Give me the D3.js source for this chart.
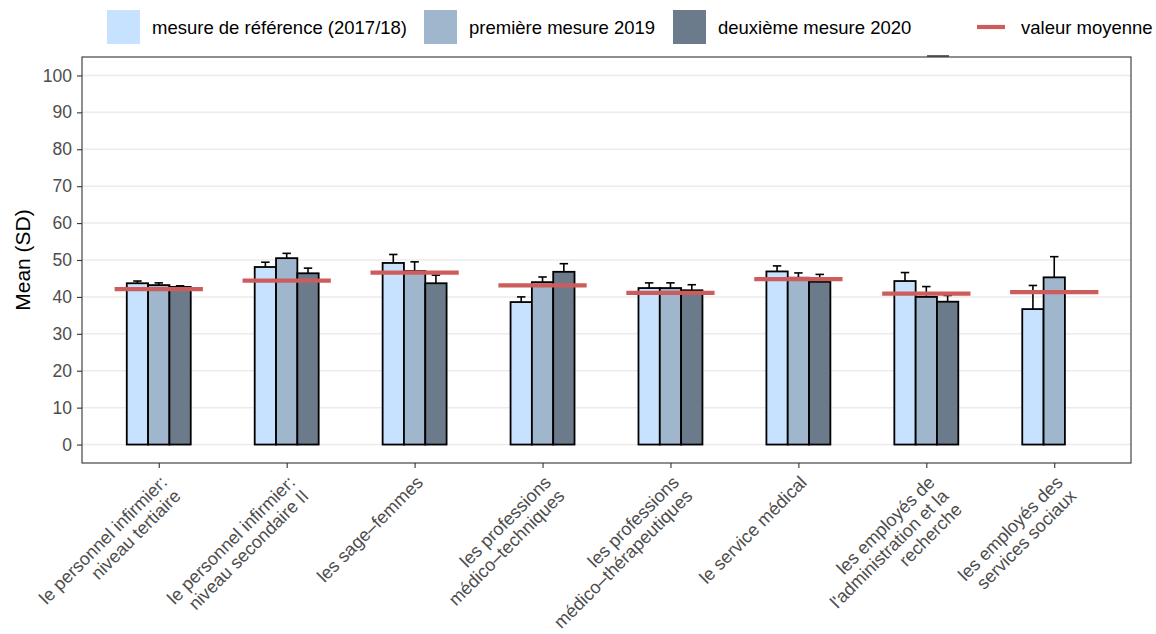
<!DOCTYPE html>
<html>
<head>
<meta charset="utf-8">
<script src="https://cdn.jsdelivr.net/npm/d3@7"></script>
<style>
  body { margin: 0; background: #fff; }
  text { font-family: "Liberation Sans", Arial, sans-serif; }
</style>
</head>
<body>
<div id="chart"></div>
<script>
// categories (line breaks as in the picture)
let categories = [
  "le personnel infirmier:\nniveau tertiaire",
  "le personnel infirmier:\nniveau secondaire II",
  "les sage–femmes",
  "les professions\nmédico–techniques",
  "les professions\nmédico–thérapeutiques",
  "le service médical",
  "les employés de\nl'administration et la\nrecherche",
  "les employés des\nservices sociaux"
]

let seriesNames = ["mesure de référence (2017/18)", "première mesure 2019", "deuxième mesure 2020"]

// means and SDs per measurement
let ref2017 = [43.7, 48.1, 49.2, 38.6, 42.4, 46.9, 44.3, 36.7]
let sd2017  = [0.6, 1.3, 2.3, 1.4, 1.4, 1.5, 2.3, 6.4]
let m2019   = [43.2, 50.5, 47.0, 44.0, 42.4, 45.2, 40.0, 45.3]
let sd2019  = [0.6, 1.3, 2.5, 1.4, 1.4, 1.3, 2.8, 5.6]
let m2020   = [42.7, 46.4, 43.7, 46.8, 41.8, 44.1, 38.7, null]
let sd2020  = [0.3, 1.4, 2.2, 2.2, 1.5, 2.0, 1.7, null]

// overall mean per group
let meanValues = [42.1, 44.4, 46.6, 43.1, 41.1, 44.8, 40.9, 41.3]

let yTicks = [0, 10, 20, 30, 40, 50, 60, 70, 80, 90, 100]

let colors = ["#c6e2ff", "#9fb6cd", "#6c7b8b"]
let meanColor = "#cd5c5c"

// build rows for the join
let allMeans = [ref2017, m2019, m2020]
let allSds = [sd2017, sd2019, sd2020]
let rows = []
categories.forEach(function(c, i) {
  seriesNames.forEach(function(s, j) {
    if (allMeans[j][i] != null) {
      rows.push({cat: c, series: s, value: allMeans[j][i], sd: allSds[j][i]})
    }
  })
})

let W = 1156, H = 634
let svg = d3.select("#chart").append("svg")
  .attr("width", W)
  .attr("height", H)

let pLeft = 82, pRight = 1131, pTop = 57, pBottom = 463

let x = d3.scalePoint().domain(categories).range([pLeft, pRight]).padding(0.6)
let step = x.step()
let x1 = d3.scaleBand().domain(seriesNames).range([-step * 0.25, step * 0.25])
let y = d3.scaleLinear().domain([-5, 105]).range([pBottom, pTop])

// grid
svg.append("g").selectAll("line")
  .data(yTicks)
  .enter().append("line")
  .attr("x1", pLeft).attr("x2", pRight)
  .attr("y1", d => y(d)).attr("y2", d => y(d))
  .style("stroke", "#ebebeb")
  .style("stroke-width", 1.5)

// error bars (upper part shows above the bars)
let capHalf = step * 0.033
let eb = svg.append("g").selectAll("g")
  .data(rows)
  .enter().append("g")
eb.append("line")
  .attr("x1", d => x(d.cat) + x1(d.series) + x1.bandwidth() / 2)
  .attr("x2", d => x(d.cat) + x1(d.series) + x1.bandwidth() / 2)
  .attr("y1", d => y(d.value - d.sd))
  .attr("y2", d => y(d.value + d.sd))
  .style("stroke", "#000").style("stroke-width", 1.6)
eb.append("line")
  .attr("x1", d => x(d.cat) + x1(d.series) + x1.bandwidth() / 2 - capHalf)
  .attr("x2", d => x(d.cat) + x1(d.series) + x1.bandwidth() / 2 + capHalf)
  .attr("y1", d => y(d.value + d.sd))
  .attr("y2", d => y(d.value + d.sd))
  .style("stroke", "#000").style("stroke-width", 1.6)

// bars
svg.append("g").selectAll("rect")
  .data(rows)
  .enter().append("rect")
  .attr("x", d => x(d.cat) + x1(d.series))
  .attr("width", x1.bandwidth())
  .attr("y", d => y(d.value))
  .attr("height", d => y(0) - y(d.value))
  .style("fill", d => colors[seriesNames.indexOf(d.series)])
  .style("stroke", "#000")
  .style("stroke-width", 1.8)

// mean lines
svg.append("g").selectAll("line")
  .data(meanValues)
  .enter().append("line")
  .attr("x1", (d, i) => x(categories[i]) - step * 0.345)
  .attr("x2", (d, i) => x(categories[i]) + step * 0.345)
  .attr("y1", d => y(d)).attr("y2", d => y(d))
  .style("stroke", meanColor)
  .style("stroke-width", 4.2)

// panel border
svg.append("rect")
  .attr("x", pLeft).attr("y", pTop)
  .attr("width", pRight - pLeft).attr("height", pBottom - pTop)
  .style("fill", "none").style("stroke", "#333").style("stroke-width", 1.1)

// small dark mark above the panel seen in the original
svg.append("line")
  .attr("x1", 927).attr("x2", 949).attr("y1", 56).attr("y2", 56)
  .style("stroke", "#333").style("stroke-width", 1.5)

// y axis
let yAxis = svg.append("g")
  .attr("transform", "translate(" + pLeft + ",0)")
  .call(d3.axisLeft(y).tickValues(yTicks).tickSize(5).tickPadding(5))
yAxis.select(".domain").remove()
yAxis.selectAll(".tick line").style("stroke", "#333").style("stroke-width", 1.1)
yAxis.selectAll(".tick text")
  .style("font-size", "17.5px").style("fill", "#4d4d4d")
  .style("font-family", "Liberation Sans, Arial, sans-serif")

// x axis ticks
let xAxis = svg.append("g")
  .attr("transform", "translate(0," + pBottom + ")")
  .call(d3.axisBottom(x).tickSize(5).tickFormat(""))
xAxis.select(".domain").remove()
xAxis.selectAll(".tick line").style("stroke", "#333").style("stroke-width", 1.1)

// x labels, rotated 45, right aligned
let fs = 18
let labels = svg.append("g").selectAll("text")
  .data(categories)
  .enter().append("text")
  .attr("transform", d => "translate(" + x(d) + "," + (pBottom + 11) + ") rotate(-45)")
  .attr("text-anchor", "end")
  .style("font-size", fs + "px")
  .style("fill", "#4d4d4d")
labels.selectAll("tspan")
  .data(d => d.split("\n"))
  .enter().append("tspan")
  .attr("x", 0)
  .attr("dy", (d, i) => i == 0 ? "0.75em" : "1.07em")
  .text(d => d)

// y title
svg.append("text")
  .attr("transform", "translate(30," + ((pTop + pBottom) / 2) + ") rotate(-90)")
  .attr("text-anchor", "middle")
  .style("font-size", "21px")
  .style("fill", "#000")
  .text("Mean (SD)")

// legend
let legendX = [107, 424, 673]
let leg = svg.append("g")
seriesNames.forEach(function(s, j) {
  leg.append("rect")
    .attr("x", legendX[j]).attr("y", 10)
    .attr("width", 33).attr("height", 34)
    .style("fill", colors[j])
  leg.append("text")
    .attr("x", legendX[j] + 45).attr("y", 34)
    .style("font-size", "18.5px")
    .style("fill", "#000")
    .text(s)
})
leg.append("line")
  .attr("x1", 977).attr("x2", 1005).attr("y1", 27).attr("y2", 27)
  .style("stroke", meanColor).style("stroke-width", 4.2)
leg.append("text")
  .attr("x", 1021).attr("y", 34)
  .style("font-size", "18.5px")
  .style("fill", "#000")
  .text("valeur moyenne")
</script>
</body>
</html>
